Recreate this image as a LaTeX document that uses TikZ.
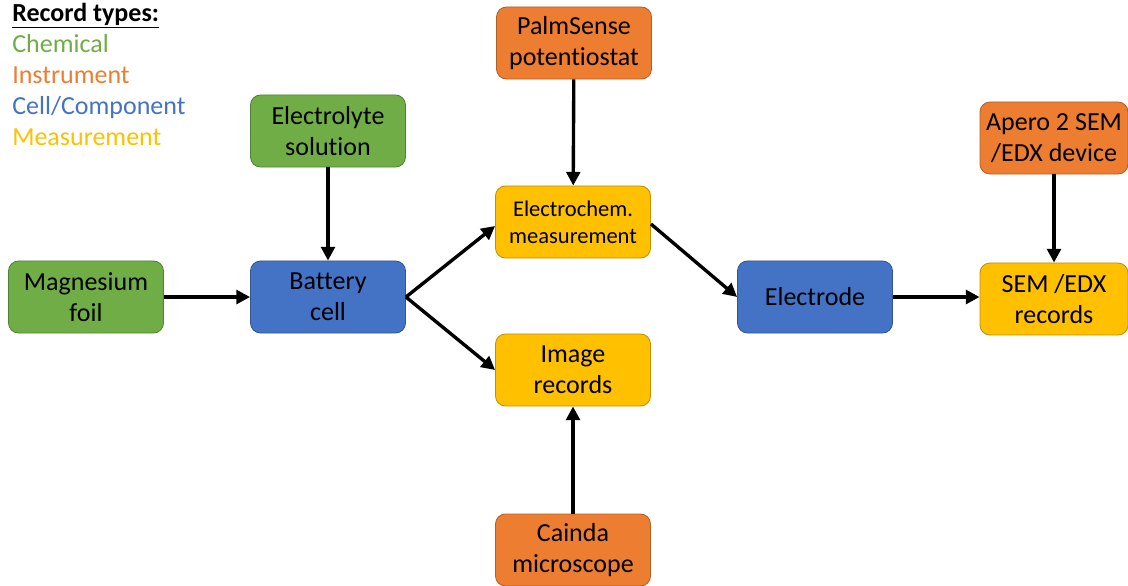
\documentclass[tikz,border=0pt]{standalone}
\usepackage{fontspec}
\setmainfont[Ligatures=NoCommon]{Carlito}
\usetikzlibrary{arrows.meta}

\definecolor{chemgreen}{HTML}{70AD47}
\definecolor{instorange}{HTML}{ED7D31}
\definecolor{cellblue}{HTML}{4472C4}
\definecolor{measyellow}{HTML}{FFC000}

\tikzset{
  recbox/.style={draw=#1!75!black, line width=0.6pt, fill=#1, rounded corners=0.25cm,
    minimum height=1.8cm, inner sep=0pt, align=center,
    font=\fontsize{18.5}{21.8}\selectfont},
  small/.style={font=\fontsize{16}{19.5}\selectfont},
  link/.style={-{Triangle[length=0.34cm,width=0.34cm]}, line width=2.4pt}
}

\begin{document}
\begin{tikzpicture}[x=0.025cm,y=-0.025cm]
  \useasboundingbox (0,0) rectangle (1128,585);

  % legend
  \node[anchor=base west, inner sep=0pt, font=\fontsize{18.5}{21.8}\selectfont] (legtitle) at (12,21) {\underline{\textbf{Record types:}}};
  \foreach \t/\c/\y in {Chemical/chemgreen/52, Instrument/instorange/83, {Cell/Component}/cellblue/114, Measurement/measyellow/145} {
    \node[anchor=base west, inner sep=0pt, text=\c, font=\fontsize{18.5}{21.8}\selectfont] at (12,\y) {\t};
  }

  % record boxes
  \foreach \n/\x/\y/\w/\c/\t in {
      mg/86/297/155/chemgreen/{Magnesium\\foil},
      electrolyte/328/131/155/chemgreen/{Electrolyte\\solution},
      battery/328/297/155/cellblue/{Battery\\cell},
      palmsense/574/43/155/instorange/{PalmSense\\potentiostat},
      image/573/370/155/measyellow/{Image\\records},
      cainda/573/550/155/instorange/{Cainda\\microscope},
      electrode/815/297/155/cellblue/{Electrode},
      apero/1054/138/148/instorange/{Apero 2 SEM\\/EDX device},
      semrec/1054/299/148/measyellow/{SEM /EDX\\records}} {
    \node[recbox=\c, minimum width=\w*0.025cm] (\n) at (\x,\y) {\t};
  }
  \node[recbox=measyellow, small, minimum width=3.875cm] (echem) at (573,222) {Electrochem.\\measurement};

  % connectors
  \draw[link] (mg) -- (battery);
  \draw[link] (electrolyte) -- (battery);
  \draw[link] (battery.east) -- ([yshift=-0.1cm]echem.west);
  \draw[link] (battery.east) -- (image.west);
  \draw[link] (palmsense) -- (echem);
  \draw[link] (cainda) -- (image);
  \draw[link] ([yshift=-0.05cm]echem.east) -- (electrode.west);
  \draw[link] (electrode.east) -- (electrode.east -| semrec.west);
  \draw[link] (apero) -- (semrec);
\end{tikzpicture}
\end{document}
